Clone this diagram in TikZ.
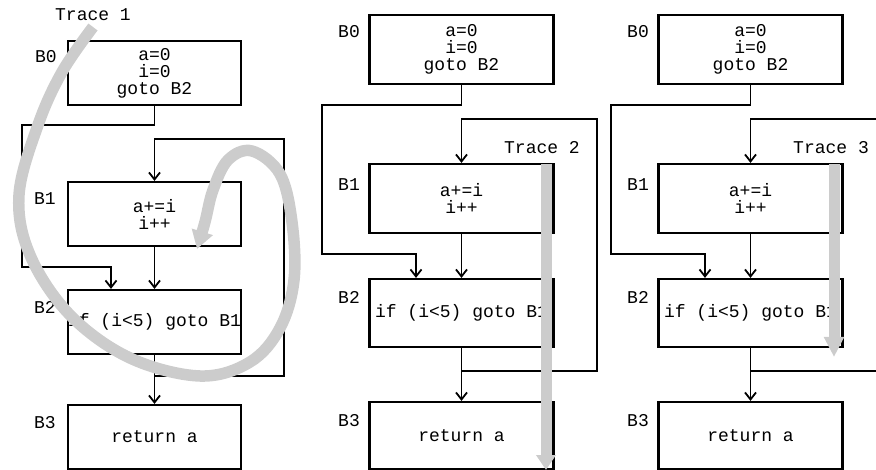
\documentclass[tikz,border=0pt]{standalone}
\usepackage{fontspec}
\newfontfamily\codefont{Liberation Mono}
\usetikzlibrary{arrows.meta}
\definecolor{traceGray}{RGB}{204,204,204}
\begin{document}
\begin{tikzpicture}[x=1pt,y=-1pt,
  codetext/.style={font=\codefont\fontsize{18}{17}\selectfont},
  blk/.style={draw, line width=2.2pt, inner sep=0pt, align=center, codetext},
  lbl/.style={inner sep=0pt, codetext},
  edge/.style={line width=1.8pt, -{Straight Barb[length=7pt,width=11pt,line width=1.8pt]}},
  trace/.style={draw=traceGray, line width=11.5pt}]
\useasboundingbox (0,0) rectangle (876,470);
\clip (0,0) rectangle (876,470);

% ---------------- Panel 1 ----------------
\node[blk, minimum width=173pt, minimum height=64pt] (p1b0) at (154.5,73) {a=0\\i=0\\goto B2};
\node[blk, minimum width=173pt, minimum height=64pt] (p1b1) at (154.5,214) {a+=i\\i++};
\node[blk, minimum width=173pt, minimum height=64pt] (p1b2) at (154.5,322) {if (i<5) goto B1};
\node[blk, minimum width=173pt, minimum height=64pt] (p1b3) at (154.5,437) {return a};
\node[lbl] (p1l0) at (46,57) {B0};
\node[lbl] (p1l1) at (45,199) {B1};
\node[lbl] (p1l2) at (45,307) {B2};
\node[lbl] (p1l3) at (45,423) {B3};
\node[lbl] (t1) at (93,15) {Trace 1};
\coordinate (p1a) at (22,125);
\coordinate (p1b) at (111,267);
\coordinate (p1j) at (154.5,376);
\coordinate (p1r) at (284,139);
\draw[edge] (p1b0.south) |- (p1a) |- (p1b) -- (p1b2.north -| p1b);
\draw[edge] (p1b1) -- (p1b2);
\draw[edge] (p1b2) -- (p1b3);
\draw[edge] (p1j) -| (p1r) -| (p1b1.north);

% ---------------- Panel 2 ----------------
\node[blk, minimum width=184pt, minimum height=69pt] (p2b0) at (461.5,49.5) {a=0\\i=0\\goto B2};
\node[blk, minimum width=184pt, minimum height=69pt] (p2b1) at (461.5,198.5) {a+=i\\i++};
\node[blk, minimum width=184pt, minimum height=68pt] (p2b2) at (461.5,313) {if (i<5) goto B1};
\node[blk, minimum width=184pt, minimum height=67pt] (p2b3) at (461.5,435.5) {return a};
\node[lbl] (p2l0) at (349,32) {B0};
\node[lbl] (p2l1) at (349,185) {B1};
\node[lbl] (p2l2) at (349,297) {B2};
\node[lbl] (p2l3) at (349,421) {B3};
\node[lbl] (t2) at (542,148) {Trace 2};
\coordinate (p2a) at (322,105);
\coordinate (p2b) at (416,254);
\coordinate (p2j) at (461.5,371);
\coordinate (p2r) at (597,119);
\draw[edge] (p2b0.south) |- (p2a) |- (p2b) -- (p2b2.north -| p2b);
\draw[edge] (p2b1) -- (p2b2);
\draw[edge] (p2b2) -- (p2b3);
\draw[edge] (p2j) -| (p2r) -| (p2b1.north);

% ---------------- Panel 3 ----------------
\node[blk, minimum width=184pt, minimum height=69pt] (p3b0) at (750.5,49.5) {a=0\\i=0\\goto B2};
\node[blk, minimum width=184pt, minimum height=69pt] (p3b1) at (750.5,198.5) {a+=i\\i++};
\node[blk, minimum width=184pt, minimum height=68pt] (p3b2) at (750.5,313) {if (i<5) goto B1};
\node[blk, minimum width=184pt, minimum height=67pt] (p3b3) at (750.5,435.5) {return a};
\node[lbl] (p3l0) at (638,32) {B0};
\node[lbl] (p3l1) at (638,185) {B1};
\node[lbl] (p3l2) at (638,297) {B2};
\node[lbl] (p3l3) at (638,421) {B3};
\node[lbl] (t3) at (831,148) {Trace 3};
\coordinate (p3a) at (611,105);
\coordinate (p3b) at (705,254);
\coordinate (p3j) at (750.5,371);
\coordinate (p3r) at (886,119);
\draw[edge] (p3b0.south) |- (p3a) |- (p3b) -- (p3b2.north -| p3b);
\draw[edge] (p3b1) -- (p3b2);
\draw[edge] (p3b2) -- (p3b3);
\draw[edge] (p3j) -| (p3r) -| (p3b1.north);

% ---------------- Traces ----------------
\draw[trace, -{Triangle[length=18pt,width=21pt]}] plot[smooth, tension=0.6] coordinates {(93,27) (62,72) (38,125) (19,195) (30,255) (70,315) (130,358) (200,376) (250,362) (280,328) (294,280) (292,222) (280,174) (252,151) (228,160) (213,190) (205,222) (197,249)};
\coordinate (t2s) at (546,164);
\coordinate (t2e) at (546,470);
\draw[trace, line width=11pt, -{Triangle[length=15pt,width=19pt]}] (t2s) -- (t2e);
\coordinate (t3s) at (834,164);
\coordinate (t3e) at (834,357);
\draw[trace, line width=11pt, -{Triangle[length=20pt,width=19pt]}] (t3s) -- (t3e);
\end{tikzpicture}
\end{document}
